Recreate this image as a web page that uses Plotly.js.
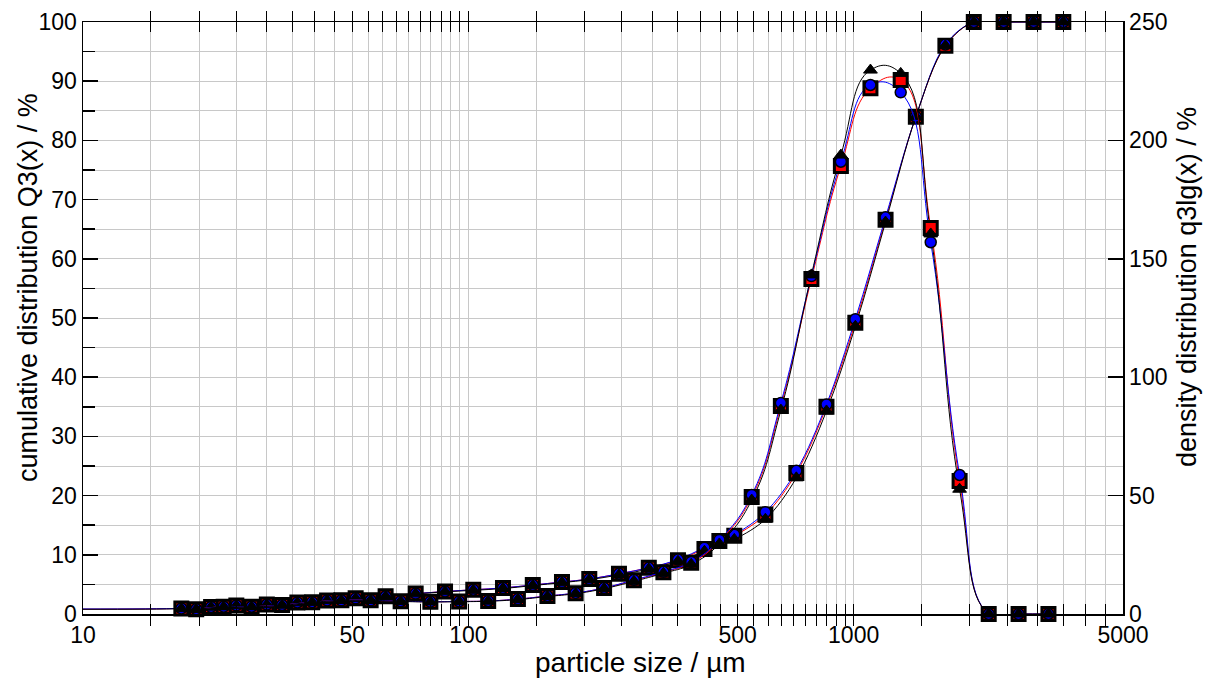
<!DOCTYPE html>
<html>
<head>
<meta charset="utf-8">
<script src="https://cdn.plot.ly/plotly-3.0.1.min.js"></script>
<style>html,body{margin:0;padding:0;background:#fff}#plot{width:1211px;height:680px}</style>
</head>
<body>
<div id="plot"></div>
<script>
// class upper bounds (cumulative) and class geometric means (density), µm
const sizeQ3 = [18, 21.5, 25, 30, 36, 43, 51, 61, 73, 87, 103, 123, 147, 175, 206, 246, 294, 350, 410, 490, 590, 710, 850, 1010, 1210, 1450, 1730, 2050, 2450, 2930, 3500];
const sizeQ3Line = [10].concat(sizeQ3);
const sizeDens = [19.67, 23.18, 27.39, 32.86, 39.34, 46.83, 55.78, 66.73, 79.70, 94.67, 112.59, 134.47, 160.44, 189.87, 225.07, 268.96, 320.81, 378.81, 448.22, 543.78, 647.23, 776.85, 926.50, 1105.46, 1324.58, 1584.82, 1883.25, 2241.09, 2679.27, 3202.5];

// cumulative distribution Q3 / %
const q3RedCum   = [0.95, 1.2, 1.45, 1.6, 1.95, 2.3, 2.65, 3.0, 3.45, 3.8, 4.1, 4.4, 4.9, 5.4, 5.9, 6.8, 7.8, 9.1, 11.0, 13.2, 16.8, 23.8, 35.0, 49.2, 66.6, 84.0, 96.0, 100, 100, 100, 100];
const q3BlueCum  = [0.95, 1.2, 1.45, 1.6, 1.95, 2.3, 2.65, 3.0, 3.45, 3.8, 4.1, 4.4, 4.9, 5.4, 5.9, 6.8, 7.8, 9.2, 11.2, 13.4, 17.2, 24.2, 35.4, 49.8, 67.0, 84.0, 96.2, 100, 100, 100, 100];
const q3BlackCum = [0.9, 1.15, 1.4, 1.55, 1.9, 2.25, 2.6, 2.95, 3.4, 3.75, 4.0, 4.3, 4.8, 5.3, 5.8, 6.6, 7.6, 8.9, 10.6, 12.6, 16.0, 23.0, 34.3, 48.6, 66.2, 84.0, 96.0, 100, 100, 100, 100];
const q3StartRed = 0.8, q3StartBlue = 0.85, q3StartBlack = 0.8;

// density distribution q3lg / %
const densRed   = [2.0, 3.1, 3.1, 3.8, 5.0, 5.8, 5.8, 5.4, 5.2, 5.3, 5.5, 6.3, 7.6, 8.8, 11.0, 14.2, 17.6, 21.6, 30.8, 49.4, 87.8, 141.5, 189.2, 222.0, 225.5, 163.0, 56.2, 0, 0, 0];
const densBlue  = [2.0, 3.1, 3.1, 3.8, 5.0, 5.8, 5.8, 5.4, 5.2, 5.3, 5.5, 6.3, 7.6, 8.9, 11.0, 14.4, 17.8, 22.0, 31.3, 50.3, 89.1, 142.7, 191.0, 223.4, 220.3, 157.0, 58.7, 0, 0, 0];
const densBlack = [1.9, 3.0, 3.0, 3.7, 4.9, 5.7, 5.7, 5.3, 5.1, 5.2, 5.4, 6.1, 7.4, 8.6, 10.7, 13.8, 17.2, 21.0, 29.6, 48.1, 86.1, 143.2, 193.8, 229.7, 228.3, 160.5, 52.7, 0, 0, 0];

// x grid / tick positions and labels
const xGrid = [];
for (let v = 10; v < 100; v += 5) xGrid.push(v);
for (let v = 100; v < 1000; v += 50) xGrid.push(v);
for (let v = 1000; v <= 5000; v += 500) xGrid.push(v);
const xLabelled = [10, 50, 100, 500, 1000, 5000];
const xText = xGrid.map(v => xLabelled.includes(v) ? String(v) : '');

const xTitle = 'particle size / µm';
const yTitle = 'cumulative distribution Q3(x) / %';
const y2Title = 'density distribution q3lg(x) / %';

const FONT = 'Liberation Sans, Arial, sans-serif';
const TICK = 23, TITLE = 27;
const series = [
  {color: '#ff0000', symbol: 'square', size: 13, lw: 3, cum: q3RedCum, start: q3StartRed, dens: densRed},
  {color: '#0000ff', symbol: 'circle', size: 11, lw: 1.5, cum: q3BlueCum, start: q3StartBlue, dens: densBlue},
  {color: '#000000', symbol: 'triangle-up', size: 12, lw: 1, cum: q3BlackCum, start: q3StartBlack, dens: densBlack}
];

const traces = [];
series.forEach(s => {
  traces.push({x: sizeQ3Line, y: [s.start].concat(s.cum), yaxis: 'y', mode: 'lines',
    line: {color: s.color, width: 1, shape: 'spline', smoothing: 1}, hoverinfo: 'skip', showlegend: false});
  traces.push({x: sizeDens, y: s.dens, yaxis: 'y2', mode: 'lines',
    line: {color: s.color, width: 1, shape: 'spline', smoothing: 1.3}, hoverinfo: 'skip', showlegend: false});
});
series.forEach(s => {
  const mk = {symbol: s.symbol, size: s.size, color: s.color, line: {color: '#000', width: s.lw}};
  traces.push({x: sizeQ3, y: s.cum, yaxis: 'y', mode: 'markers', marker: mk, showlegend: false, cliponaxis: false});
  traces.push({x: sizeDens, y: s.dens, yaxis: 'y2', mode: 'markers', marker: mk, showlegend: false, cliponaxis: false});
});

const layout = {
  width: 1211, height: 680,
  margin: {l: 83, r: 88, t: 22, b: 66},
  paper_bgcolor: '#fff', plot_bgcolor: '#fff',
  font: {family: FONT, color: '#000', size: TICK},
  showlegend: false,
  xaxis: {
    type: 'log', range: [1, Math.log10(5000)],
    tickmode: 'array', tickvals: xGrid, ticktext: xText,
    ticks: 'inside', ticklen: 10, tickwidth: 1, tickcolor: '#000',
    showline: true, linecolor: '#000', linewidth: 1.5, mirror: 'allticks',
    showgrid: true, gridcolor: '#c8c8c8', gridwidth: 1, zeroline: false,
    tickfont: {family: FONT, size: TICK}
  },
  yaxis: {
    range: [0, 100], tickmode: 'linear', tick0: 0, dtick: 10,
    ticks: 'inside', ticklen: 15, tickwidth: 1.5, tickcolor: '#000',
    showline: true, linecolor: '#000', linewidth: 1.5,
    showgrid: true, gridcolor: '#c8c8c8', gridwidth: 1, zeroline: false,
    minor: {dtick: 5, ticks: 'inside', ticklen: 12, tickcolor: '#000', showgrid: true, gridcolor: '#c8c8c8', gridwidth: 1},
    tickfont: {family: FONT, size: TICK}
  },
  yaxis2: {
    overlaying: 'y', side: 'right', range: [0, 250], tickmode: 'linear', tick0: 0, dtick: 50,
    ticks: 'inside', ticklen: 15, tickwidth: 1.5, tickcolor: '#000',
    showline: true, linecolor: '#000', linewidth: 1.5,
    showgrid: false, zeroline: false,
    tickfont: {family: FONT, size: TICK}
  },
  annotations: [
    {text: xTitle, xref: 'paper', yref: 'paper', x: 0.5356, y: -0.0811, xanchor: 'center', yanchor: 'middle',
     showarrow: false, font: {family: FONT, size: TITLE + 1}},
    {text: yTitle, xref: 'paper', yref: 'paper', x: -0.0529, y: 0.5524, xanchor: 'center', yanchor: 'middle',
     textangle: -90, showarrow: false, font: {family: FONT, size: TITLE}},
    {text: y2Title, xref: 'paper', yref: 'paper', x: 1.0615, y: 0.5524, xanchor: 'center', yanchor: 'middle',
     textangle: -90, showarrow: false, font: {family: FONT, size: TITLE}}
  ]
};

Plotly.newPlot('plot', traces, layout, {displayModeBar: false, staticPlot: true});
</script>
</body>
</html>
